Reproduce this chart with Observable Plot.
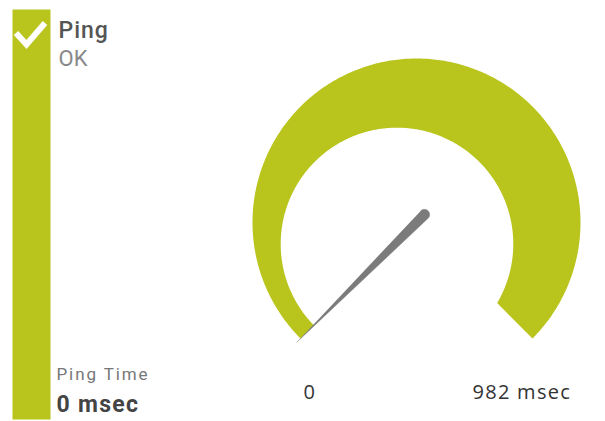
<!DOCTYPE html>
<html>
<head>
<meta charset="utf-8">
<script src="https://cdn.jsdelivr.net/npm/d3@7"></script>
<script src="https://cdn.jsdelivr.net/npm/@observablehq/plot@0.6"></script>
<style>
  html, body { margin: 0; padding: 0; background: #fff; }
  #chart svg { display: block; }
</style>
</head>
<body>
<div id="chart"></div>
<script>
// ---- data ----
const gaugeRange = [0, 982];          // min, max (msec)
const pingValues = [0];               // current ping time (msec)
const statusTexts = ["Ping", "OK"];   // sensor name, status
const readoutTexts = ["Ping Time", "0 msec"];
const tickLabels = ["0", "982 msec"];

// ---- styles ----
const GREEN = "#b9c41c";
const NEEDLE = "#7b7b7b";
const W = 605, H = 421;
const R_PX = 164; // outer radius in px (x range half-width)
const spacing = new Map([
  [statusTexts[0], "1px"],
  [readoutTexts[0], "1.9px"],
  [readoutTexts[1], "1.3px"],
  [tickLabels[1], "1.3px"]
]);

// ---- gauge geometry (unit circle, y up) ----
const deg = Math.PI / 180;
const startAngle = 225, sweep = 270;
const angleOf = v => (startAngle - sweep * (v - gaugeRange[0]) / (gaugeRange[1] - gaugeRange[0])) * deg;
const innerC = [-0.119, -0.131], innerR = 0.709;
function innerT(a) {
  const dx = Math.cos(a), dy = Math.sin(a);
  const b = dx * innerC[0] + dy * innerC[1];
  const c2 = innerC[0] ** 2 + innerC[1] ** 2;
  return b + Math.sqrt(b * b - c2 + innerR * innerR);
}
const steps = d3.range(0, 361).map(i => gaugeRange[0] + (gaugeRange[1] - gaugeRange[0]) * i / 360);
const outerPts = steps.map(v => { const a = angleOf(v); return {x: Math.cos(a), y: Math.sin(a)}; });
const innerPts = steps.slice().reverse().map(v => { const a = angleOf(v), t = innerT(a); return {x: t * Math.cos(a), y: t * Math.sin(a)}; });
const band = outerPts.concat(innerPts);

// needle
const na = angleOf(pingValues[0]);
const nd = [Math.cos(na), Math.sin(na)];
const tipLen = 1.03, capOff = 0.068, capR = 0.032;
const needle = [{x: tipLen * nd[0], y: tipLen * nd[1]}];
for (let k = 0; k <= 36; k++) {
  const phi = na + (90 + 180 * k / 36) * deg;
  needle.push({x: -capOff * nd[0] + capR * Math.cos(phi), y: -capOff * nd[1] + capR * Math.sin(phi)});
}

// tick labels under the two ends of the band (with small pixel nudges)
const endMid = v => { const a = angleOf(v); return Math.cos(a) * (1 + innerT(a)) / 2; };
const tickNudge = [2, 7];
const ticks = [gaugeRange[0], gaugeRange[1]].map((v, i) => ({x: endMid(v) + tickNudge[i] / R_PX, label: tickLabels[i]}));

// checkmark icon
const checkMark = () => {
  const p = d3.create("svg:path")
    .attr("d", "M16,33L26.5,44.5L45,23")
    .attr("fill", "none")
    .attr("stroke", "#fff")
    .attr("stroke-width", 6);
  return p.node();
};

const chart = Plot.plot({
  width: W,
  height: H,
  margin: 0,
  style: {background: "#fff", overflow: "visible"},
  x: {domain: [-1, 1], range: [252, 580], axis: null},
  y: {domain: [-1, 1], range: [386, 58], axis: null},
  marks: [
    // status bar on the left
    Plot.frame({fill: GREEN, stroke: null, insetLeft: 12, insetRight: W - 50, insetTop: 9, insetBottom: 2}),
    checkMark,
    Plot.text([statusTexts[0]], {text: d => d, frameAnchor: "top-left", dx: 58, dy: 21, textAnchor: "start", lineAnchor: "top",
      fontSize: 23, fontWeight: 500, fill: "#555", fontFamily: "Roboto"}),
    Plot.text([statusTexts[1]], {text: d => d, frameAnchor: "top-left", dx: 58, dy: 50, textAnchor: "start", lineAnchor: "top",
      fontSize: 22, fill: "#888", fontFamily: "Roboto"}),
    Plot.text([readoutTexts[0]], {text: d => d, frameAnchor: "top-left", dx: 56, dy: 367, textAnchor: "start", lineAnchor: "top",
      fontSize: 17, fill: "#777", fontFamily: "Roboto"}),
    Plot.text([readoutTexts[1]], {text: d => d, frameAnchor: "top-left", dx: 56, dy: 395, textAnchor: "start", lineAnchor: "top",
      fontSize: 23, fontWeight: "bold", fill: "#444", fontFamily: "Roboto"}),
    // gauge
    Plot.line(band, {x: "x", y: "y", fill: GREEN, stroke: null, curve: "linear"}),
    Plot.line(needle, {x: "x", y: "y", fill: NEEDLE, stroke: NEEDLE, strokeWidth: 0.5, curve: "linear"}),
    Plot.text(ticks, {x: "x", y: () => -1, text: "label", lineAnchor: "top", dy: -2,
      fontSize: 20, fill: "#333", fontFamily: "Open Sans"})
  ]
});
d3.select(chart).selectAll("text").each(function() {
  const s = spacing.get(this.textContent);
  if (s) this.style.letterSpacing = s;
});
document.getElementById("chart").appendChild(chart);
</script>
</body>
</html>
